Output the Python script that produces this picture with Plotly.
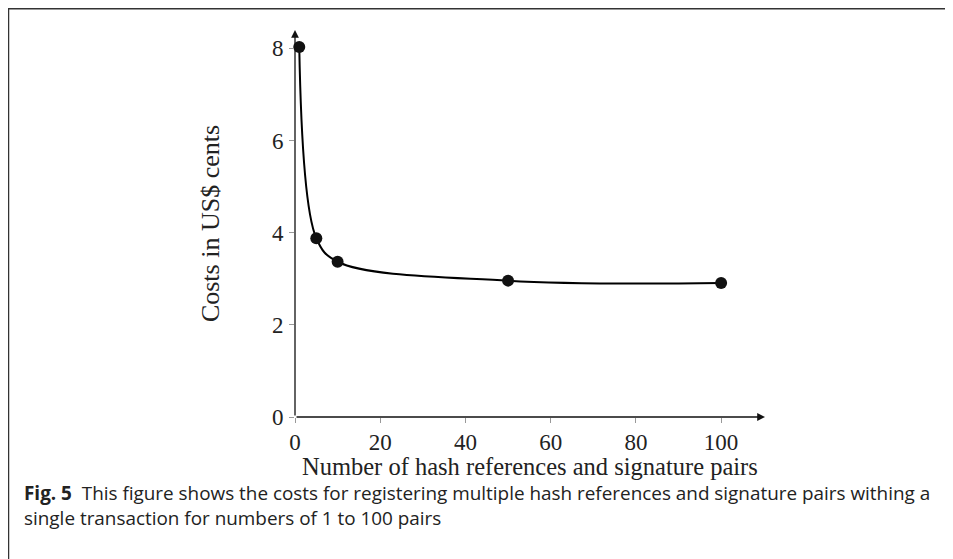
import plotly.graph_objects as go

# data
pairs = [1, 5, 10, 50, 100]
costs = [8.03, 3.88, 3.37, 2.96, 2.91]
x_ticks = [0, 20, 40, 60, 80, 100]
y_ticks = [0, 2, 4, 6, 8]
x_title = "Number of hash references and signature pairs"
y_title = "Costs in US$ cents"

OFF = 8  # page body margin
W, H = 953 - OFF, 559 - OFF
L, R, T, B = 295 - OFF, 765 - OFF, 30 - OFF, 417 - OFF   # plot area in figure pixels
XMAX, YMAX = 110.3, 8.4

def px(p):  # reference page pixel -> paper x
    return (p - OFF - L) / (R - L)

def py(p):  # reference page pixel -> paper y
    return (B - (p - OFF)) / (B - T)

serif = "Liberation Serif"
sans = "Open Sans"

fig = go.Figure()
fig.add_trace(go.Scatter(
    x=pairs, y=costs, mode="lines+markers",
    line=dict(color="black", width=2, shape="spline", smoothing=1.0),
    marker=dict(color="#111", size=12),
    cliponaxis=False, showlegend=False, hoverinfo="skip",
))

fig.update_layout(
    width=W, height=H,
    margin=dict(l=L, r=W - R, t=T, b=H - B),
    paper_bgcolor="white", plot_bgcolor="white",
    xaxis=dict(
        range=[0, XMAX], tickvals=x_ticks, showgrid=False, zeroline=False,
        showline=False, ticks="outside", ticklen=5, tickcolor="#999",
        tickwidth=1, tickfont=dict(family=serif, size=23, color="#222"),
        ticklabelstandoff=-1,
    ),
    yaxis=dict(
        range=[0, YMAX], tickvals=y_ticks, showgrid=False, zeroline=False,
        showline=False, ticks="outside", ticklen=5, tickcolor="#999",
        tickwidth=1, tickfont=dict(family=serif, size=23, color="#222"),
        ticklabelstandoff=1,
        title=dict(text=y_title,
                   font=dict(family=serif, size=26, color="#222"), standoff=44),
    ),
)

# x-axis title
fig.add_annotation(xref="paper", yref="paper", x=0.5, y=py(466), xanchor="center",
                   yanchor="middle", showarrow=False, text=x_title,
                   font=dict(family=serif, size=24.5, color="#222"))

# axis arrows
fig.add_annotation(x=XMAX, y=0, ax=0, ay=0, xref="x", yref="y", axref="x", ayref="y",
                   showarrow=True, arrowhead=2, arrowsize=1.2, arrowwidth=1.3,
                   arrowcolor="#111", text="")
fig.add_annotation(x=0, y=YMAX, ax=0, ay=0, xref="x", yref="y", axref="x", ayref="y",
                   showarrow=True, arrowhead=2, arrowsize=1.2, arrowwidth=1.3,
                   arrowcolor="#111", text="")

# frame
fig.add_shape(type="line", xref="paper", yref="paper", x0=px(8), x1=px(960),
              y0=py(8.5), y1=py(8.5), line=dict(color="#333", width=2))
fig.add_shape(type="line", xref="paper", yref="paper", x0=px(8.5), x1=px(8.5),
              y0=py(8), y1=py(570), line=dict(color="#333", width=1.5))

# caption
fig.add_annotation(xref="paper", yref="paper", x=px(22), y=py(493), xanchor="left",
                   yanchor="middle", showarrow=False,
                   text="<b>Fig. 5</b>  This figure shows the costs for registering multiple hash references and signature pairs withing a",
                   font=dict(family=sans, size=18.9, color="#222"))
fig.add_annotation(xref="paper", yref="paper", x=px(22), y=py(518), xanchor="left",
                   yanchor="middle", showarrow=False,
                   text="single transaction for numbers of 1 to 100 pairs",
                   font=dict(family=sans, size=18.9, color="#222"))

fig.write_html("out.html")
